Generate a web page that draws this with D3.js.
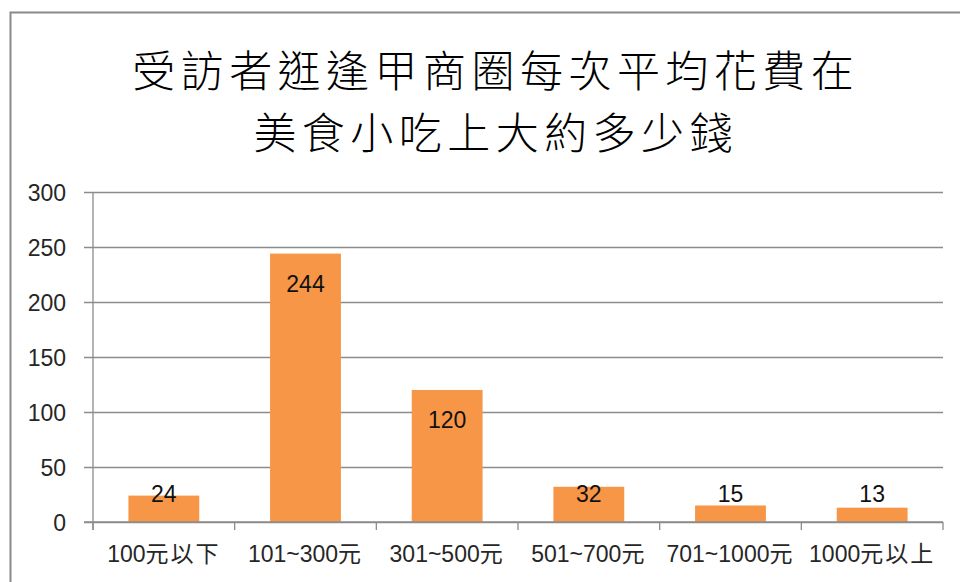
<!DOCTYPE html>
<html>
<head>
<meta charset="utf-8">
<script src="https://cdn.jsdelivr.net/npm/d3@7/dist/d3.min.js"></script>
<style>
  html, body { margin: 0; padding: 0; background: #fff; }
  svg { display: block; }
</style>
</head>
<body>
<svg id="chart" width="960" height="582"></svg>
<script>
// Survey: average spending on snacks per visit to the shopping district
const titleLines = ["受訪者逛逢甲商圈每次平均花費在", "美食小吃上大約多少錢"];
const categories = ["100元以下", "101~300元", "301~500元", "501~700元", "701~1000元", "1000元以上"];
const counts = [24, 244, 120, 32, 15, 13];
const yTicks = [0, 50, 100, 150, 200, 250, 300];

const svg = d3.select("#chart");
const W = 960, H = 582;
const plot = { left: 93, right: 943, top: 192, bottom: 522 };

const latin = "'Liberation Sans', Arial, sans-serif";
const cjk = "'Liberation Sans', 'Noto Sans CJK TC', sans-serif";
const gridColor = "#8c8c8c";

// chart frame
svg.append("path")
  .attr("d", `M10.5,${H} V12.5 H${W}`)
  .attr("fill", "none")
  .attr("stroke", "#8a8a8a")
  .attr("stroke-width", 2);

// title; letter spacing widens the first line to its intended span
const titleText = svg.append("g").selectAll("text")
  .data(titleLines)
  .join("text")
  .attr("x", 493)
  .attr("y", (d, i) => 68 + i * 62)
  .attr("text-anchor", "middle")
  .attr("dominant-baseline", "central")
  .attr("font-family", "'Noto Sans CJK TC', sans-serif")
  .attr("font-weight", 300)
  .attr("font-size", 43)
  .attr("fill", "#000")
  .text(d => d);
const firstWidth = titleText.node().getComputedTextLength();
const n1 = titleLines[0].length;
const spacing = firstWidth > 0 ? Math.max(0, (727 - firstWidth) / n1) : 0;
titleText
  .attr("letter-spacing", spacing)
  .attr("x", 493 + spacing / 2);

const x = d3.scaleBand()
  .domain(categories)
  .range([plot.left, plot.right])
  .paddingInner(0.5)
  .paddingOuter(0.25);

const y = d3.scaleLinear()
  .domain([0, 300])
  .range([plot.bottom, plot.top]);

// horizontal gridlines with y labels
const yAxis = d3.axisLeft(y)
  .tickValues(yTicks)
  .tickSize(-(plot.right - plot.left))
  .tickSizeOuter(0)
  .tickPadding(0);

const gy = svg.append("g")
  .attr("transform", `translate(${plot.left},0)`)
  .call(yAxis);
gy.select(".domain").remove();
gy.selectAll(".tick line")
  .attr("x1", -9)
  .attr("stroke", gridColor)
  .attr("stroke-width", 1.3);
gy.selectAll(".tick text")
  .attr("x", -27)
  .attr("dy", "0.35em")
  .attr("font-family", latin)
  .attr("font-size", 23)
  .attr("fill", "#262626");

// vertical axis line
svg.append("line")
  .attr("x1", plot.left).attr("x2", plot.left)
  .attr("y1", plot.top).attr("y2", plot.bottom + 8)
  .attr("stroke", gridColor)
  .attr("stroke-width", 1.3);

// category separators
const boundaries = d3.range(categories.length + 1).map(i => plot.left + i * (plot.right - plot.left) / categories.length);
svg.append("g").selectAll("line")
  .data(boundaries)
  .join("line")
  .attr("x1", d => d).attr("x2", d => d)
  .attr("y1", plot.bottom).attr("y2", plot.bottom + 8)
  .attr("stroke", gridColor)
  .attr("stroke-width", 1.3);

// bars
svg.append("g").selectAll("rect")
  .data(counts)
  .join("rect")
  .attr("x", (d, i) => x(categories[i]))
  .attr("y", d => y(d))
  .attr("width", x.bandwidth())
  .attr("height", d => y(0) - y(d))
  .attr("fill", "#F79646");

// baseline over bars
svg.append("line")
  .attr("x1", plot.left - 9).attr("x2", plot.right)
  .attr("y1", y(0)).attr("y2", y(0))
  .attr("stroke", gridColor)
  .attr("stroke-width", 1.3);

// value labels (inside end, kept clear of the baseline)
svg.append("g").selectAll("text")
  .data(counts)
  .join("text")
  .attr("x", (d, i) => x(categories[i]) + x.bandwidth() / 2)
  .attr("y", d => Math.min(y(d) + 30, y(0) - 28))
  .attr("dy", "0.35em")
  .attr("text-anchor", "middle")
  .attr("font-family", latin)
  .attr("font-size", 23)
  .attr("fill", "#111")
  .text(d => d);

// category labels: latin and CJK runs split so CJK gets a little extra spacing
const catText = svg.append("g").selectAll("text")
  .data(categories)
  .join("text")
  .attr("x", d => x(d) + x.bandwidth() / 2)
  .attr("y", 554)
  .attr("dy", "0.35em")
  .attr("text-anchor", "middle")
  .attr("font-family", cjk)
  .attr("font-size", 23)
  .attr("fill", "#262626");
catText.selectAll("tspan")
  .data(d => d.match(/[\u4e00-\u9fff]+|[^\u4e00-\u9fff]+/g))
  .join("tspan")
  .attr("letter-spacing", s => /[\u4e00-\u9fff]/.test(s) ? 2 : 0)
  .text(s => s);
</script>
</body>
</html>
